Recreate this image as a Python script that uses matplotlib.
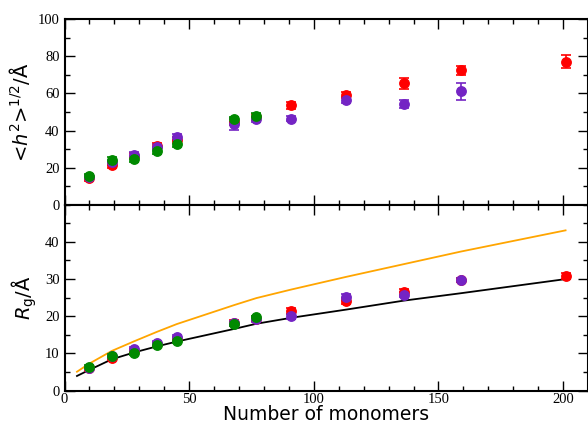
import numpy as np
import matplotlib
matplotlib.use("Agg")
import matplotlib.pyplot as plt
from matplotlib.ticker import MultipleLocator

# number of monomers for each series
n_red = [10, 19, 28, 37, 45, 68, 77, 91, 113, 136, 159, 201]
n_purple = [10, 19, 28, 37, 45, 68, 77, 91, 113, 136, 159]
n_green = [10, 19, 28, 37, 45, 68, 77]

# end-to-end distance <h^2>^1/2 (top panel)
h_red = [14.5, 21.4, 26.4, 31.8, 34.8, 44.7, 47.2, 53.5, 59.1, 65.4, 72.4, 77.0]
h_red_err = [1.5, 1.5, 1.5, 1.5, 1.5, 1.5, 1.5, 2.0, 1.8, 3.0, 2.5, 3.5]
h_purple = [15.0, 22.8, 26.8, 31.1, 36.5, 43.5, 46.0, 46.3, 56.4, 54.1, 61.1]
h_purple_err = [1.2, 1.5, 1.5, 1.5, 1.5, 3.0, 1.5, 1.3, 1.5, 2.2, 4.5]
h_green = [15.6, 24.1, 24.4, 28.9, 32.7, 46.0, 47.9]
h_green_err = [1.2, 1.5, 1.5, 1.5, 1.5, 1.5, 1.5]

# radius of gyration (bottom panel)
rg_red = [6.0, 8.9, 10.6, 12.5, 13.8, 18.3, 19.4, 21.5, 24.2, 26.6, 29.8, 30.9]
rg_red_err = [0.6, 0.6, 0.6, 0.6, 0.6, 0.6, 0.6, 0.8, 0.8, 0.8, 0.6, 0.8]
rg_purple = [6.2, 9.2, 11.1, 12.8, 14.5, 18.1, 19.2, 20.0, 25.2, 25.8, 29.8]
rg_purple_err = [0.5, 0.5, 0.6, 0.6, 0.6, 0.6, 0.6, 0.6, 0.7, 0.7, 0.6]
rg_green = [6.5, 9.4, 10.2, 12.3, 13.3, 18.0, 19.7]
rg_green_err = [0.5, 0.5, 0.5, 0.5, 0.5, 0.5, 0.5]

# reference curves
n_line = [5, 10, 19, 28, 37, 45, 68, 77, 91, 113, 136, 159, 201]
rg_black = [3.96, 5.6, 8.45, 10.3, 11.9, 13.2, 16.6, 18.0, 19.6, 21.8, 24.2, 26.2, 30.0]
rg_orange = [5.1, 7.3, 10.7, 13.3, 15.8, 17.9, 23.0, 24.9, 27.2, 30.6, 34.0, 37.4, 43.1]

RED = "#ff0000"
PURPLE = "#7424c4"
GREEN = "#008a00"
ORANGE = "#ffa500"

fig = plt.figure(figsize=(5.88, 4.25), dpi=100)
ax1 = fig.add_axes([0.1097, 0.5184, 0.8903, 0.4362])
ax2 = fig.add_axes([0.1097, 0.0807, 0.8903, 0.4377])

def errpts(ax, x, y, e, c):
    ax.errorbar(x, y, yerr=e, fmt="o", color=c, ms=6.8, capsize=3.5,
                elinewidth=1.2, capthick=1.2, zorder=3)

errpts(ax1, n_red, h_red, h_red_err, RED)
errpts(ax1, n_purple, h_purple, h_purple_err, PURPLE)
errpts(ax1, n_green, h_green, h_green_err, GREEN)

ax2.plot(n_line, rg_orange, color=ORANGE, lw=1.3, zorder=2)
ax2.plot(n_line, rg_black, color="black", lw=1.3, zorder=2)
errpts(ax2, n_red, rg_red, rg_red_err, RED)
errpts(ax2, n_purple, rg_purple, rg_purple_err, PURPLE)
errpts(ax2, n_green, rg_green, rg_green_err, GREEN)

tickfont = {"family": "Liberation Serif", "size": 10.5}

for ax in (ax1, ax2):
    ax.set_xlim(0, 210)
    ax.xaxis.set_major_locator(MultipleLocator(50))
    ax.xaxis.set_minor_locator(MultipleLocator(10))
    ax.tick_params(which="both", direction="in", top=True, right=True)
    ax.tick_params(which="major", length=7, width=1)
    ax.tick_params(which="minor", length=3.5, width=1)
    for s in ax.spines.values():
        s.set_linewidth(1.5)

ax1.set_ylim(0, 100)
ax1.yaxis.set_major_locator(MultipleLocator(20))
ax1.yaxis.set_minor_locator(MultipleLocator(10))
ax1.set_xticklabels([])
ax1.set_yticks([0, 20, 40, 60, 80, 100])
ax1.set_yticklabels(["0", "20", "40", "60", "80", "100"], fontdict=tickfont)

ax2.set_ylim(0, 50)
ax2.yaxis.set_major_locator(MultipleLocator(10))
ax2.yaxis.set_minor_locator(MultipleLocator(5))
ax2.set_yticks([0, 10, 20, 30, 40])
ax2.set_yticklabels(["0", "10", "20", "30", "40"], fontdict=tickfont)
ax2.set_xticks([0, 50, 100, 150, 200])
ax2.set_xticklabels(["0", "50", "100", "150", "200"], fontdict=tickfont)
ax2.tick_params(axis="x", pad=2)

plt.rcParams["mathtext.fontset"] = "dejavusans"
ax1.set_ylabel(r"<$h^2$>$^{1/2}$/Å", fontsize=14)
ax2.set_ylabel(r"$R_{\rm g}$/Å", fontsize=14)
ax2.set_xlabel("Number of monomers", fontsize=13.5, labelpad=-1)

fig.savefig("out.png", dpi=100)
